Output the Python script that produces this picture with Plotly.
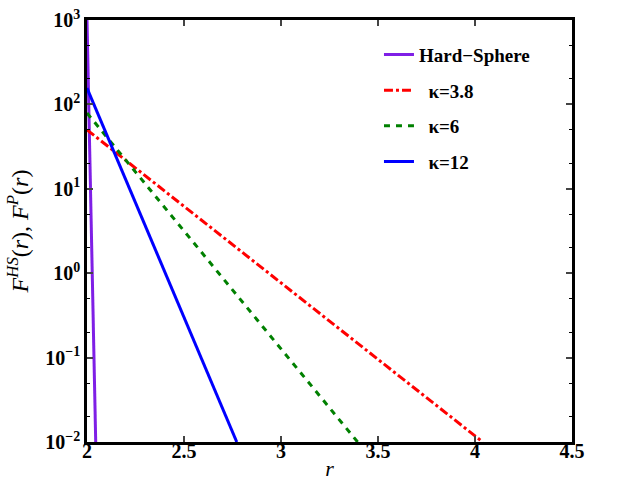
import plotly.graph_objects as go

# data (straight lines on a log axis: endpoints)
names = ["Hard\u2212Sphere", "\u2002\u03ba=3.8", "\u2002\u03ba=6", "\u2002\u03ba=12"]
r_hs = [2.0, 2.045]
f_hs = [1000, 0.01]
r_38 = [2.0, 4.04]
f_38 = [50, 0.01]
r_6 = [2.0, 3.395]
f_6 = [79, 0.01]
r_12 = [2.0, 2.772]
f_12 = [156, 0.01]

colors = ["#7f1fe6", "#ff0000", "#008000", "#0000ff"]
dashes = ["solid", "9px,3px,3px,3px", "6px,6px", "solid"]
xs = [r_hs, r_38, r_6, r_12]
ys = [f_hs, f_38, f_6, f_12]

fig = go.Figure()
for i in range(4):
    fig.add_trace(go.Scatter(x=xs[i], y=ys[i], mode="lines", name=names[i],
                             legendgroup=str(i),
                             line=dict(color=colors[i], width=3, dash=dashes[i])))

yt = [0.01, 0.1, 1, 10, 100, 1000]
ytext = ["10<sup>\u22122</sup>", "10<sup>\u22121</sup>", "10<sup>0</sup>",
         "10<sup>1</sup>", "10<sup>2</sup>", "10<sup>3</sup>"]
xt = [2, 2.5, 3, 3.5, 4, 4.5]
xtext = ["2", "2.5", "3", "3.5", "4", "4.5"]

font = "Liberation Serif, Times New Roman, serif"
fig.update_layout(
    width=620, height=488,
    margin=dict(l=87, r=48, t=20, b=46),
    plot_bgcolor="white", paper_bgcolor="white",
    font=dict(family=font, color="black"),
    showlegend=True,
    legend=dict(x=0.602, y=0.963, xanchor="left", yanchor="top",
                bgcolor="rgba(0,0,0,0)", tracegroupgap=8,
                font=dict(family=font, size=19, color="black", weight="bold")),
    xaxis=dict(range=[2, 4.5], tickvals=xt, ticktext=xtext,
               ticks="inside", ticklen=6, tickwidth=2, mirror="ticks",
               showline=True, linewidth=2.5, linecolor="black",
               showgrid=False, zeroline=False, automargin=False,
               ticklabelstandoff=-11,
               tickfont=dict(family=font, size=20, weight="bold"),
               title=dict(text="<i>r</i>", font=dict(family=font, size=22), standoff=0)),
    yaxis=dict(type="log", range=[-2, 3], tickvals=yt, ticktext=ytext,
               ticks="inside", ticklen=6, tickwidth=2, mirror="ticks",
               showline=True, linewidth=2.5, linecolor="black",
               showgrid=False, zeroline=False, automargin=False,
               minor=dict(ticks="inside", ticklen=3, tickwidth=1, tickcolor="black"),
               tickfont=dict(family=font, size=20, weight="bold"),
               title=dict(text="<i>F</i><sup><i>HS</i></sup>(<i>r</i>), <i>F</i><sup><i>P</i></sup>(<i>r</i>)",
                          font=dict(family=font, size=24), standoff=10)),
)
fig.write_html("out.html")
